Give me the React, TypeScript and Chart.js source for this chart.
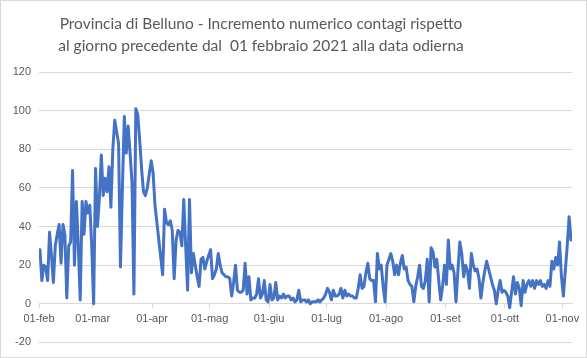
import React, { useEffect, useRef } from "react";
import { Chart, registerables } from "chart.js";

Chart.register(...registerables);

const titleLines = [
  "Provincia di Belluno - Incremento numerico contagi rispetto",
  "al giorno precedente dal  01 febbraio 2021 alla data odierna",
];

const monthLabels = ["01-feb", "01-mar", "01-apr", "01-mag", "01-giu", "01-lug", "01-ago", "01-set", "01-ott", "01-nov"];
const monthStartDays = [0, 28, 59, 89, 120, 150, 181, 212, 243, 273];

const yMin = -20;
const yMax = 120;
const yStep = 20;

// daily increments from 01 Feb 2021 (index 0) to 05 Nov 2021
const dailyIncrements = [
  28, 12, 20, 19, 12, 37, 25, 11, 30, 36,
  41, 21, 41, 36, 3, 30, 32, 69, 20, 53,
  30, 2, 53, 36, 53, 47, 51, 30, 0, 70,
  40, 55, 77, 56, 65, 58, 71, 50, 80, 95,
  89, 83, 19, 60, 97, 78, 92, 78, 63, 5,
  101, 98, 85, 70, 58, 56, 60, 67, 74, 68,
  51, 42, 33, 24, 15, 49, 42, 41, 43, 38,
  13, 33, 38, 37, 30, 54, 30, 7, 54, 16,
  26, 20, 14, 9, 23, 24, 18, 22, 25, 28,
  13, 15, 18, 26, 20, 16, 15, 14, 14, 13,
  4, 11, 20, 7, 6, 6, 7, 21, 5, 14,
  2, 3, 3, 5, 13, 3, 5, 12, 2, 1,
  10, 2, 3, 11, 2, 4, 3, 5, 3, 4,
  4, 2, 3, 1, 2, 7, 1, 2, 2, 1,
  2, 0, 1, 1, 1, 2, 1, 2, 3, 5,
  8, 6, 2, 7, 4, 4, 5, 8, 3, 7,
  4, 5, 4, 4, 3, 3, 8, 15, 8, 9,
  16, 21, 13, 12, 12, 1, 26, 18, 20, 9,
  1, 20, 23, 26, 22, 15, 20, 15, 21, 25,
  18, 19, 12, 10, 9, 1, 9, 14, 20, 9,
  8, 12, 23, 1, 29, 27, 19, 23, 12, 2,
  9, 20, 10, 33, 18, 20, 16, 1, 17, 32,
  26, 14, 20, 17, 8, 26, 20, 17, 18, 13,
  3, 11, 17, 22, 18, 14, 10, 7, 0, 7,
  12, 6, 7, 6, 4, -2, 6, 14, 5, 11,
  8, -1, 12, 6, 10, 12, 9, 12, 8, 12,
  10, 12, 9, 10, 8, 12, 9, 22, 18, 24,
  20, 32, 14, 4, 17, 30, 45, 33,
];

const GRID = "#d9d9d9";
const TEXT = "#595959";

const titlePlugin = {
  id: "excelTitle",
  afterDraw(chart: any) {
    const ctx = chart.ctx;
    ctx.save();
    ctx.font = "15.5px Lato";
    ctx.fillStyle = TEXT;
    ctx.textAlign = "center";
    ctx.textBaseline = "alphabetic";
    titleLines.forEach((t, k) => ctx.fillText(t, 260, 28 + k * 21.5));
    ctx.restore();
  },
};

export default function App() {
  const ref = useRef<HTMLCanvasElement | null>(null);

  useEffect(() => {
    if (!ref.current) return;
    const chart = new Chart(ref.current, {
      type: "line",
      data: {
        datasets: [
          {
            data: dailyIncrements.map((v, i) => ({ x: i, y: v })),
            borderColor: "#4472C4",
            backgroundColor: "#4472C4",
            borderWidth: 3,
            pointRadius: 0,
            tension: 0,
            borderJoinStyle: "round",
            borderCapStyle: "round",
          },
        ],
      },
      options: {
        animation: false,
        responsive: false,
        devicePixelRatio: 1,
        layout: { padding: { left: 0, top: 71, right: 14, bottom: 14 } },
        plugins: {
          legend: { display: false },
          title: { display: false },
          tooltip: { enabled: false },
        },
        scales: {
          x: {
            type: "linear",
            position: { y: 0 } as any,
            min: -0.5,
            max: dailyIncrements.length - 0.5,
            afterBuildTicks: (scale: any) => {
              scale.ticks = monthStartDays.map((d) => ({ value: d - 0.5 }));
            },
            ticks: {
              autoSkip: false,
              maxRotation: 0,
              minRotation: 0,
              padding: 5,
              color: TEXT,
              font: { family: "Liberation Sans", size: 11 },
              callback: (_v: any, index: number) => monthLabels[index],
            },
            grid: {
              drawOnChartArea: false,
              drawTicks: true,
              tickLength: 4,
              color: GRID,
              tickColor: GRID,
            },
            border: { display: true, color: GRID, width: 1 },
          },
          y: {
            min: yMin,
            max: yMax,
            afterFit: (scale: any) => {
              scale.width = 38;
            },
            ticks: {
              stepSize: yStep,
              padding: 8,
              color: TEXT,
              font: { family: "Liberation Sans", size: 11 },
            },
            grid: { color: GRID, drawTicks: false, lineWidth: 1 },
            border: { display: false },
          },
        },
      },
      plugins: [titlePlugin],
    });
    return () => chart.destroy();
  }, []);

  return (
    <div
      style={{
        position: "absolute",
        left: 0,
        top: 0,
        width: 587,
        height: 358,
        boxSizing: "border-box",
        border: `1px solid ${GRID}`,
        background: "#fff",
      }}
    >
      <canvas ref={ref} width={585} height={356} style={{ display: "block", width: 585, height: 356 }} />
    </div>
  );
}
